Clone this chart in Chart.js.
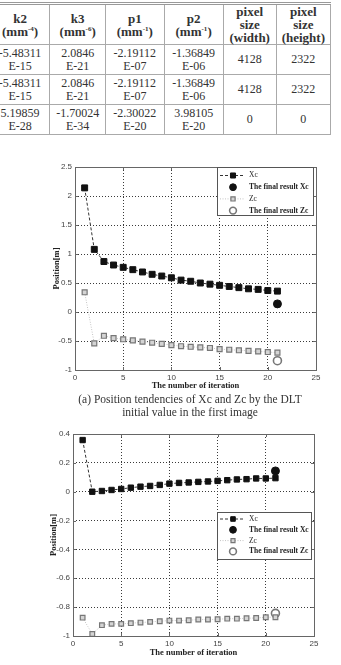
<!DOCTYPE html>
<html lang="en">
<head>
<meta charset="UTF-8">
<title>Position tendencies of Xc and Zc</title>
<script src="https://cdn.jsdelivr.net/npm/chart.js"></script>
<style>
  body { margin: 0; width: 341px; height: 665px; overflow: hidden; position: relative; background: #fff;
         font-family: "Liberation Serif", serif; color: #333; }
  #params { position: absolute; left: -10px; top: 2px; border-collapse: collapse; table-layout: fixed;
            border-top: 3px double #999; }
  #params th, #params td { border: 1px solid #aaa; text-align: center; padding: 0; line-height: 13px; }
  #params th { font-size: 13px; height: 39px; }
  #params td { font-size: 12px; height: 29px; }
  sup { font-size: 7px; line-height: 0; vertical-align: 5px; }
  canvas { position: absolute; left: 0; }
  .caption { position: absolute; left: 40px; width: 300px; text-align: center; font-size: 11.5px; line-height: 13px; }
</style>
</head>
<body>
<table id="params">
  <colgroup>
    <col style="width:62px"><col style="width:58px"><col style="width:61px">
    <col style="width:62px"><col style="width:55px"><col style="width:56px">
  </colgroup>
  <tr><th>k2<br>(mm<sup>-4</sup>)</th><th>k3<br>(mm<sup>-6</sup>)</th><th>p1<br>(mm<sup>-1</sup>)</th>
      <th>p2<br>(mm<sup>-1</sup>)</th><th>pixel<br>size<br>(width)</th><th>pixel<br>size<br>(height)</th></tr>
  <tr><td>-5.48311<br>E-15</td><td>2.0846<br>E-21</td><td>-2.19112<br>E-07</td><td>-1.36849<br>E-06</td><td>4128</td><td>2322</td></tr>
  <tr><td>-5.48311<br>E-15</td><td>2.0846<br>E-21</td><td>-2.19112<br>E-07</td><td>-1.36849<br>E-06</td><td>4128</td><td>2322</td></tr>
  <tr><td>5.19859<br>E-28</td><td>-1.70024<br>E-34</td><td>-2.30022<br>E-20</td><td>3.98105<br>E-20</td><td>0</td><td>0</td></tr>
</table>

<canvas id="chart1" width="341" height="248" style="top:150px"></canvas>
<div class="caption" style="top:393px">(a) Position tendencies of Xc and Zc by the DLT<br>initial value in the first image</div>
<canvas id="chart2" width="341" height="240" style="top:425px"></canvas>

<script>
const iterations = [1, 2, 3, 4, 5, 6, 7, 8, 9, 10, 11, 12, 13, 14, 15, 16, 17, 18, 19, 20, 21];
const finalIter = 21;
const seriesLabels = ['Xc', 'The final result Xc', 'Zc', 'The final result Zc'];

// first image
const xc1 = [2.14, 1.08, 0.87, 0.81, 0.77, 0.73, 0.69, 0.65, 0.62, 0.59, 0.55,
             0.53, 0.50, 0.48, 0.46, 0.44, 0.42, 0.40, 0.39, 0.37, 0.36];
const zc1 = [0.34, -0.54, -0.41, -0.45, -0.47, -0.49, -0.51, -0.53, -0.55, -0.57, -0.59,
             -0.60, -0.61, -0.62, -0.64, -0.65, -0.66, -0.67, -0.68, -0.69, -0.70];
const finalXc1 = 0.14;
const finalZc1 = -0.84;

// second chart
const xc2 = [0.358, 0.0, 0.005, 0.012, 0.019, 0.028, 0.035, 0.040, 0.047, 0.056, 0.061,
             0.064, 0.068, 0.071, 0.075, 0.080, 0.085, 0.087, 0.092, 0.092, 0.094];
const zc2 = [-0.873, -0.986, -0.925, -0.916, -0.916, -0.911, -0.907, -0.902, -0.898, -0.893, -0.893,
             -0.891, -0.886, -0.886, -0.884, -0.880, -0.880, -0.877, -0.875, -0.870, -0.870];
const finalXc2 = 0.144;
const finalZc2 = -0.843;

const xTicks = [0, 5, 10, 15, 20, 25];
const yTicks1 = [-1, -0.5, 0, 0.5, 1, 1.5, 2, 2.5];
const yTicks2 = [-1, -0.8, -0.6, -0.4, -0.2, 0, 0.2, 0.4];

// box round the plot, with short inward ticks like matlab
const framePlugin = {
  id: 'frame',
  afterDraw(chart) {
    const { ctx, chartArea: a, scales } = chart;
    ctx.save();
    ctx.strokeStyle = '#666';
    ctx.lineWidth = 1;
    ctx.setLineDash([]);
    ctx.strokeRect(a.left + 0.5, a.top + 0.5, a.right - a.left, a.bottom - a.top);
    ctx.beginPath();
    scales.x.ticks.forEach(t => {
      const px = Math.round(scales.x.getPixelForValue(t.value)) + 0.5;
      ctx.moveTo(px, a.bottom); ctx.lineTo(px, a.bottom - 3);
      ctx.moveTo(px, a.top); ctx.lineTo(px, a.top + 3);
    });
    scales.y.ticks.forEach(t => {
      const py = Math.round(scales.y.getPixelForValue(t.value)) + 0.5;
      ctx.moveTo(a.left, py); ctx.lineTo(a.left + 3, py);
      ctx.moveTo(a.right, py); ctx.lineTo(a.right - 3, py);
    });
    ctx.stroke();
    ctx.restore();
  }
};

// legend box inside the plot area
const boxLegendPlugin = {
  id: 'boxLegend',
  afterDraw(chart, args, opts) {
    const { ctx, chartArea: a } = chart;
    const x0 = Math.round(a.left + opts.left), y0 = Math.round(a.top + opts.top);
    ctx.save();
    ctx.fillStyle = '#fff';
    ctx.fillRect(x0, y0, opts.width, opts.height);
    ctx.strokeStyle = '#555';
    ctx.lineWidth = 1;
    ctx.strokeRect(x0 + 0.5, y0 + 0.5, opts.width, opts.height);
    chart.data.datasets.forEach((ds, i) => {
      const y = y0 + opts.rowTop + i * opts.rowGap;
      if (ds.showLine) {
        ctx.strokeStyle = ds.borderColor;
        ctx.lineWidth = ds.borderWidth;
        ctx.setLineDash(ds.borderDash || []);
        ctx.beginPath();
        ctx.moveTo(x0 + 3, y); ctx.lineTo(x0 + 28, y);
        ctx.stroke();
        ctx.setLineDash([]);
      }
      ctx.fillStyle = ds.pointBackgroundColor;
      ctx.strokeStyle = ds.pointBorderColor;
      ctx.lineWidth = ds.pointBorderWidth;
      Chart.helpers.drawPoint(ctx, {
        pointStyle: ds.pointStyle, rotation: 0,
        radius: ds.pointRadius * 0.85, borderWidth: ds.pointBorderWidth
      }, x0 + 16, y);
      ctx.fillStyle = '#222';
      ctx.font = (ds.showLine ? '' : 'bold ') + '7.5px "Liberation Serif"';
      ctx.textBaseline = 'middle';
      ctx.fillText(ds.label, x0 + 32, y);
    });
    ctx.restore();
  }
};

function makeChart(id, xc, zc, fx, fz, yTicks, geo) {
  const xcData = iterations.map((it, i) => ({ x: it, y: xc[i] }));
  const zcData = iterations.map((it, i) => ({ x: it, y: zc[i] }));
  return new Chart(document.getElementById(id), {
    type: 'scatter',
    data: {
      datasets: [{
        label: seriesLabels[0],
        data: xcData,
        showLine: true,
        borderColor: '#333',
        borderWidth: 1,
        borderDash: [3, 2],
        pointStyle: 'rect',
        pointRadius: geo.xcRadius,
        pointBackgroundColor: '#111',
        pointBorderColor: '#111',
        pointBorderWidth: 1
      }, {
        label: seriesLabels[1],
        data: [{ x: finalIter, y: fx }],
        showLine: false,
        pointStyle: 'circle',
        pointRadius: geo.finalRadius,
        pointBackgroundColor: '#111',
        pointBorderColor: '#111',
        pointBorderWidth: 1
      }, {
        label: seriesLabels[2],
        data: zcData,
        showLine: true,
        borderColor: '#c4c4c4',
        borderWidth: 1,
        borderDash: [1, 1.5],
        pointStyle: 'rect',
        pointRadius: geo.zcRadius,
        pointBackgroundColor: '#d4d4d4',
        pointBorderColor: '#777',
        pointBorderWidth: 1.2
      }, {
        label: seriesLabels[3],
        data: [{ x: finalIter, y: fz }],
        showLine: false,
        pointStyle: 'circle',
        pointRadius: geo.finalRadius,
        pointBackgroundColor: '#fff',
        pointBorderColor: '#777',
        pointBorderWidth: 1.6
      }]
    },
    options: {
      responsive: false,
      animation: false,
      layout: { padding: { top: geo.padTop, right: geo.padRight, left: 0, bottom: 0 } },
      plugins: {
        legend: { display: false },
        tooltip: { enabled: false },
        boxLegend: geo.legend
      },
      scales: {
        x: {
          type: 'linear', min: 0, max: 25,
          afterBuildTicks: s => { s.ticks = xTicks.map(v => ({ value: v })); },
          afterFit: s => { s.height = geo.xHeight; },
          grid: { color: '#3a3a3a', lineWidth: 1, drawTicks: false },
          border: { display: false, dash: [1, 2] },
          ticks: { padding: 3, color: '#444', font: { family: 'Liberation Sans', size: 8 }, callback: v => String(v) },
          title: { display: true, text: 'The number of iteration', color: '#222',
                   font: { family: 'Liberation Serif', size: 8.5, weight: 'bold' }, padding: { top: 0, bottom: 7 } }
        },
        y: {
          min: yTicks[0], max: yTicks[yTicks.length - 1],
          afterBuildTicks: s => { s.ticks = yTicks.map(v => ({ value: v })); },
          afterFit: s => { s.width = geo.yWidth; },
          grid: { color: '#3a3a3a', lineWidth: 1, drawTicks: false },
          border: { display: false, dash: [1, 2] },
          ticks: { padding: 3, color: '#444', font: { family: 'Liberation Sans', size: 8 }, callback: v => String(v) },
          title: { display: true, text: 'Position[m]', color: '#222',
                   font: { family: 'Liberation Serif', size: 8.5, weight: 'bold' }, padding: { top: geo.yTitlePad, bottom: 0 } }
        }
      }
    },
    plugins: [framePlugin, boxLegendPlugin]
  });
}

makeChart('chart1', xc1, zc1, finalXc1, finalZc1, yTicks1, {
  padTop: 17, padRight: 25, xHeight: 28, yWidth: 75, yTitlePad: 52,
  xcRadius: 4.2, zcRadius: 3.5, finalRadius: 4,
  legend: { left: 142, top: 0, width: 96, height: 48, rowTop: 8.5, rowGap: 11.7 }
});

makeChart('chart2', xc2, zc2, finalXc2, finalZc2, yTicks2, {
  padTop: 9, padRight: 27, xHeight: 29, yWidth: 73, yTitlePad: 48.5,
  xcRadius: 3.8, zcRadius: 3.3, finalRadius: 4,
  legend: { left: 144, top: 78, width: 94, height: 47, rowTop: 7, rowGap: 10.8 }
});
</script>
</body>
</html>
